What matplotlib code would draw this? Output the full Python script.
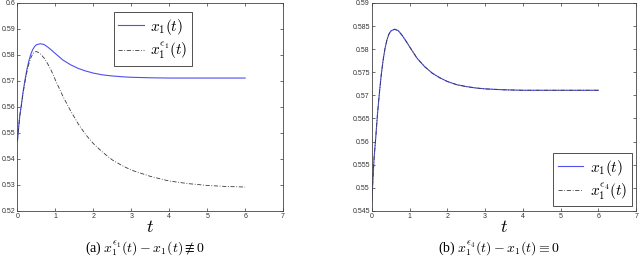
import numpy as np
import matplotlib
matplotlib.use("Agg")
import matplotlib.pyplot as plt

plt.rcParams['mathtext.fontset'] = 'cm'
plt.rcParams['font.family'] = ['Liberation Sans', 'DejaVu Sans']

########## data ##########
t = [0, 0.03, 0.06, 0.1, 0.15, 0.2, 0.25, 0.3, 0.35, 0.4, 0.45, 0.5, 0.6,
     0.7, 0.8, 0.9, 1.0, 1.2, 1.4, 1.6, 1.8, 2.0, 2.25, 2.5, 2.75, 3.0,
     3.5, 4.0, 4.5, 5.0, 5.5, 6.0]

x1 = [0.547, 0.552, 0.5565, 0.5605, 0.566, 0.5705, 0.5745, 0.5777, 0.5802,
      0.5820, 0.5832, 0.5839, 0.5843, 0.5840, 0.5830, 0.5818, 0.5805, 0.5780,
      0.5762, 0.5748, 0.5738, 0.5730, 0.5723, 0.5719, 0.5716, 0.5714,
      0.5712, 0.5711, 0.5711, 0.5711, 0.5711, 0.5711]

x1_eps1 = [0.547, 0.552, 0.5565, 0.5603, 0.5655, 0.5698, 0.5735, 0.5765,
           0.5788, 0.5803, 0.5811, 0.5813, 0.5805, 0.5788, 0.5765, 0.5737,
           0.5703, 0.5640, 0.5585, 0.5535, 0.5493, 0.5459, 0.5425, 0.5396,
           0.5375, 0.5357, 0.5333, 0.5315, 0.5305, 0.5298, 0.5294, 0.5292]

# eps4 solution coincides with x1
x1_eps4 = list(x1)

yticks_a = [0.52, 0.53, 0.54, 0.55, 0.56, 0.57, 0.58, 0.59, 0.6]
yticks_b = [0.545, 0.55, 0.555, 0.56, 0.565, 0.57, 0.575, 0.58, 0.585, 0.59]
xticks = [0, 1, 2, 3, 4, 5, 6, 7]

blue = '#4f4ff2'
dark = '#3a3a3a'

fig = plt.figure(figsize=(6.4, 2.63), dpi=100)
ax1 = fig.add_axes([0.0273, 0.198, 0.415, 0.791])
ax2 = fig.add_axes([0.581, 0.198, 0.413, 0.791])


def style(ax, yt):
    ax.set_xlim(0, 7)
    ax.set_xticks(xticks)
    ax.set_yticks(yt)
    ax.set_yticklabels(['%g' % v for v in yt])
    ax.set_ylim(yt[0], yt[-1])
    ax.tick_params(direction='in', length=2.5, width=0.5, labelsize=5,
                   top=True, right=True, pad=1.5, colors='#333333')
    for s in ax.spines.values():
        s.set_linewidth(0.6)
        s.set_color('#444444')
    ax.set_xlabel('$t$', fontsize=13, labelpad=-1)


def boxed_legend(ax, **kw):
    leg = ax.legend(fontsize=11, frameon=True, fancybox=False,
                    handlelength=1.7, borderpad=0.3, labelspacing=0.25,
                    handletextpad=0.4, **kw)
    leg.get_frame().set_edgecolor('black')
    leg.get_frame().set_linewidth(0.6)
    return leg


##### panel (a) #####
ax1.plot(t, x1, color=blue, lw=0.8, label='$x_1(t)$')
ax1.plot(t, x1_eps1, color=dark, lw=0.6, ls='-.', dashes=(5, 2, 1, 2),
         label=r'$x_1^{\epsilon_1}(t)$')
style(ax1, yticks_a)
boxed_legend(ax1, loc='upper right', bbox_to_anchor=(0.658, 0.955),
             borderaxespad=0.0)
fig.text(0.226, 0.04, r'(a) $x_1^{\epsilon_1}(t) - x_1(t) \nequiv 0$',
         ha='center', fontsize=10, family='Liberation Serif')

##### panel (b) #####
ax2.plot(t, x1, color=blue, lw=0.8, label='$x_1(t)$')
ax2.plot(t, x1_eps4, color=dark, lw=0.6, ls='-.', dashes=(5, 2, 1, 2),
         label=r'$x_1^{\epsilon_4}(t)$')
style(ax2, yticks_b)
boxed_legend(ax2, loc='lower right', borderaxespad=0.3)
fig.text(0.78, 0.04, r'(b) $x_1^{\epsilon_4}(t) - x_1(t) \equiv 0$',
         ha='center', fontsize=10, family='Liberation Serif')

fig.savefig('out.png', dpi=100)
